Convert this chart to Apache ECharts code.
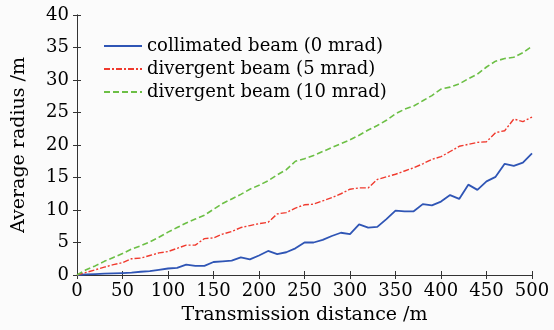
<!DOCTYPE html>
<html><head><meta charset="utf-8">
<script src="https://cdn.jsdelivr.net/npm/echarts@6/dist/echarts.min.js"></script>
<style>html,body{margin:0;padding:0;background:#fbfbfb}#c{width:554px;height:330px}</style>
</head><body><div id="c"></div>
<script>
const distances = [0,10,20,30,40,50,60,70,80,90,100,110,120,130,140,150,160,170,180,190,200,210,220,230,240,250,260,270,280,290,300,310,320,330,340,350,360,370,380,390,400,410,420,430,440,450,460,470,480,490,500];
const collimated = [0,0.1,0.15,0.2,0.25,0.3,0.35,0.5,0.6,0.8,1.0,1.1,1.6,1.4,1.4,2.0,2.1,2.2,2.7,2.4,3.0,3.7,3.2,3.5,4.1,5.0,5.0,5.4,6.0,6.5,6.3,7.8,7.3,7.4,8.6,9.9,9.8,9.8,10.9,10.7,11.3,12.3,11.7,13.9,13.1,14.4,15.1,17.1,16.8,17.3,18.7];
const divergent5 = [0,0.4,0.8,1.2,1.6,1.9,2.5,2.6,3.0,3.4,3.6,4.1,4.6,4.6,5.6,5.7,6.3,6.7,7.3,7.6,7.9,8.1,9.4,9.6,10.3,10.8,10.9,11.4,11.9,12.5,13.2,13.4,13.4,14.7,15.1,15.5,16.0,16.5,17.1,17.8,18.2,19.0,19.8,20.1,20.4,20.5,21.9,22.2,24.0,23.6,24.3];
const divergent10 = [0,0.8,1.4,2.1,2.7,3.3,4.0,4.5,5.1,5.8,6.6,7.3,8.0,8.6,9.2,10.1,11.0,11.7,12.4,13.2,13.8,14.5,15.4,16.2,17.5,17.9,18.4,19.0,19.6,20.2,20.8,21.5,22.3,23.0,23.8,24.8,25.5,26.0,26.8,27.6,28.6,28.9,29.4,30.2,30.9,32.0,32.9,33.3,33.5,34.2,35.2];
const seriesNames = ['collimated beam (0 mrad)','divergent beam (5 mrad)','divergent beam (10 mrad)'];
const xTitle = 'Transmission distance /m';
const yTitle = 'Average radius /m';

const font = "'DejaVu Serif', 'Liberation Serif', serif";
const chart = echarts.init(document.getElementById('c'));
const pair = a => distances.map((d,i)=>[d,a[i]]);
const axisCommon = {
  axisLine:{show:true,lineStyle:{color:'#333',width:1}},
  axisTick:{show:true,inside:true,length:4,lineStyle:{color:'#333'}},
  splitLine:{show:false}
};
chart.setOption({
  backgroundColor:'#fbfbfb',
  animation:false,
  grid:{left:77,right:22,top:15,bottom:51},
  legend:{
    left:98, top:32, orient:'vertical', itemGap:5, itemWidth:38, itemHeight:19,
    itemStyle:{opacity:0},
    textStyle:{fontFamily:font,fontSize:18,color:'#000'},
    data:seriesNames
  },
  xAxis:[
    Object.assign({type:'value',min:0,max:500,interval:50,name:xTitle,nameLocation:'middle',nameGap:31,
      nameTextStyle:{fontFamily:font,fontSize:19,color:'#000'},
      axisLabel:{fontFamily:font,fontSize:18,color:'#000',margin:7}},axisCommon),
    Object.assign({type:'value',min:0,max:500,interval:50,position:'top',axisLabel:{show:false}},axisCommon)
  ],
  yAxis:[
    Object.assign({type:'value',min:0,max:40,interval:5,name:yTitle,nameLocation:'middle',nameGap:48,
      nameTextStyle:{fontFamily:font,fontSize:19,color:'#000'},
      axisLabel:{fontFamily:font,fontSize:18,color:'#000',margin:8}},axisCommon),
    Object.assign({type:'value',min:0,max:40,interval:5,position:'right',axisLabel:{show:false}},axisCommon)
  ],
  series:[
    {name:seriesNames[0],type:'line',data:pair(collimated),symbol:'none',color:'#2f55b5',
      lineStyle:{width:1.8,color:'#2f55b5'}},
    {name:seriesNames[1],type:'line',data:pair(divergent5),symbol:'none',color:'#f03a2e',
      lineStyle:{width:1.4,color:'#f03a2e',type:[6,2,2,2]}},
    {name:seriesNames[2],type:'line',data:pair(divergent10),symbol:'none',color:'#6cbf45',
      lineStyle:{width:1.6,color:'#6cbf45',type:[6,3]}}
  ]
});
</script></body></html>
